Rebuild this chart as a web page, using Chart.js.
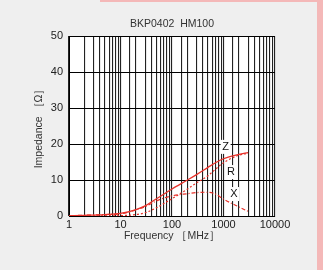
<!DOCTYPE html>
<html lang="en">
  <head>
    <meta charset="UTF-8" />
    <title>BKP0402 HM100</title>
    <script src="https://cdn.jsdelivr.net/npm/chart.js@4.4.0/dist/chart.umd.min.js"></script>
    <style>
      body { margin: 0; background: #efefef; }
      #wrap { position: relative; width: 323px; height: 270px; }
      #pinkTop { position: absolute; left: 100px; top: 0; width: 223px; height: 2px; background: #f4b8b8; }
      #pinkRight { position: absolute; left: 317px; top: 0; width: 6px; height: 270px; background: #f4b8b8; }
    </style>
  </head>
  <body>
    <div id="wrap">
      <div id="pinkTop"></div>
      <div id="pinkRight"></div>
      <canvas id="chart" width="323" height="270"></canvas>
    </div>
    <script>
      // frequency in MHz, impedance in ohm
      const freqs = [1, 2, 5, 10, 20, 30, 50, 70, 100, 200, 300, 500, 700, 1000, 2000, 3000];
      const zVals = [0.1, 0.2, 0.4, 0.7, 1.8, 2.8, 4.8, 6.1, 7.5, 10.0, 11.5, 13.5, 14.8, 15.9, 17.1, 17.6];
      const rVals = [0.0, 0.0, 0.05, 0.1, 0.4, 0.9, 2.3, 3.5, 4.8, 7.5, 9.2, 11.2, 13.0, 14.8, 16.9, 17.4];
      const xVals = [0.1, 0.2, 0.4, 0.6, 1.7, 2.6, 4.2, 5.0, 5.6, 6.2, 6.5, 6.6, 6.1, 4.7, 2.5, 1.3];
      const yTicks = [0, 10, 20, 30, 40, 50];
      const xLabels = [1, 10, 100, 1000, 10000];
      const chartTitle = "BKP0402  HM100";
      // curve names and where they are written (MHz, ohm)
      const curveNames = ["Z", "R", "X"];
      const nameSpots = [[1100, 19.2], [1400, 12.2], [1600, 6.1]];

      const red = "#e8322a";
      const font = "'Liberation Sans', Arial, sans-serif";
      const pts = vals => freqs.map((f, i) => ({ x: f, y: vals[i] }));

      const extras = {
        id: "extras",
        beforeDraw(chart) {
          const a = chart.chartArea, c = chart.ctx;
          c.save();
          c.fillStyle = "#ffffff";
          c.fillRect(a.left, a.top, a.right - a.left, a.bottom - a.top);
          c.fillStyle = "#333";
          c.font = "10.5px " + font;
          c.textAlign = "center";
          c.textBaseline = "middle";
          c.fillText(chartTitle, (a.left + a.right) / 2, 24);
          c.restore();
        },
        afterDatasetsDraw(chart) {
          const c = chart.ctx, sx = chart.scales.x, sy = chart.scales.y;
          c.save();
          c.font = "11px " + font;
          c.textAlign = "center";
          c.textBaseline = "middle";
          curveNames.forEach((n, i) => {
            const px = sx.getPixelForValue(nameSpots[i][0]);
            const py = sy.getPixelForValue(nameSpots[i][1]);
            c.fillStyle = "#ffffff";
            c.fillRect(px - 5, py - 7, 10, 14);
            c.fillStyle = "#111";
            c.fillText(n, px, py);
          });
          c.restore();
        }
      };

      const ctx = document.getElementById("chart").getContext("2d");
      new Chart(ctx, {
        type: "line",
        data: {
          datasets: [
            { label: "Z", data: pts(zVals), borderColor: red, borderWidth: 1.3, pointRadius: 0, cubicInterpolationMode: "monotone", fill: false },
            { label: "R", data: pts(rVals), borderColor: red, borderWidth: 1.2, borderDash: [2, 2], pointRadius: 0, cubicInterpolationMode: "monotone", fill: false },
            { label: "X", data: pts(xVals), borderColor: red, borderWidth: 1.2, borderDash: [4, 2, 1, 2], pointRadius: 0, cubicInterpolationMode: "monotone", fill: false }
          ]
        },
        options: {
          responsive: false,
          animation: false,
          layout: { padding: { top: 36, right: 48, left: 33, bottom: 28 } },
          plugins: {
            legend: { display: false },
            tooltip: { enabled: false },
            title: { display: false }
          },
          scales: {
            x: {
              type: "logarithmic",
              min: 1,
              max: 10000,
              border: { color: "#000", width: 1 },
              grid: { color: "#222", lineWidth: 1.1, drawTicks: false },
              ticks: {
                autoSkip: false,
                maxRotation: 0,
                padding: 2,
                color: "#222",
                font: { family: font, size: 11 },
                callback: v => (xLabels.includes(v) ? String(v) : "")
              },
              title: {
                display: true,
                text: "Frequency ［MHz］",
                color: "#333",
                font: { family: font, size: 10.5 },
                padding: { top: 0, bottom: 0 }
              },
              afterFit: s => { s.height = 26; }
            },
            y: {
              min: 0,
              max: 50,
              afterBuildTicks: s => { s.ticks = yTicks.map(v => ({ value: v })); },
              border: { color: "#000", width: 1 },
              grid: { color: "#000", lineWidth: 1, drawTicks: false },
              ticks: {
                padding: 6,
                color: "#222",
                font: { family: font, size: 11 }
              },
              title: {
                display: true,
                text: "Impedance ［Ω］",
                color: "#333",
                font: { family: font, size: 10.5 },
                padding: { top: 0, bottom: 0 }
              },
              afterFit: s => { s.width = 36; }
            }
          }
        },
        plugins: [extras]
      });
    </script>
  </body>
</html>
